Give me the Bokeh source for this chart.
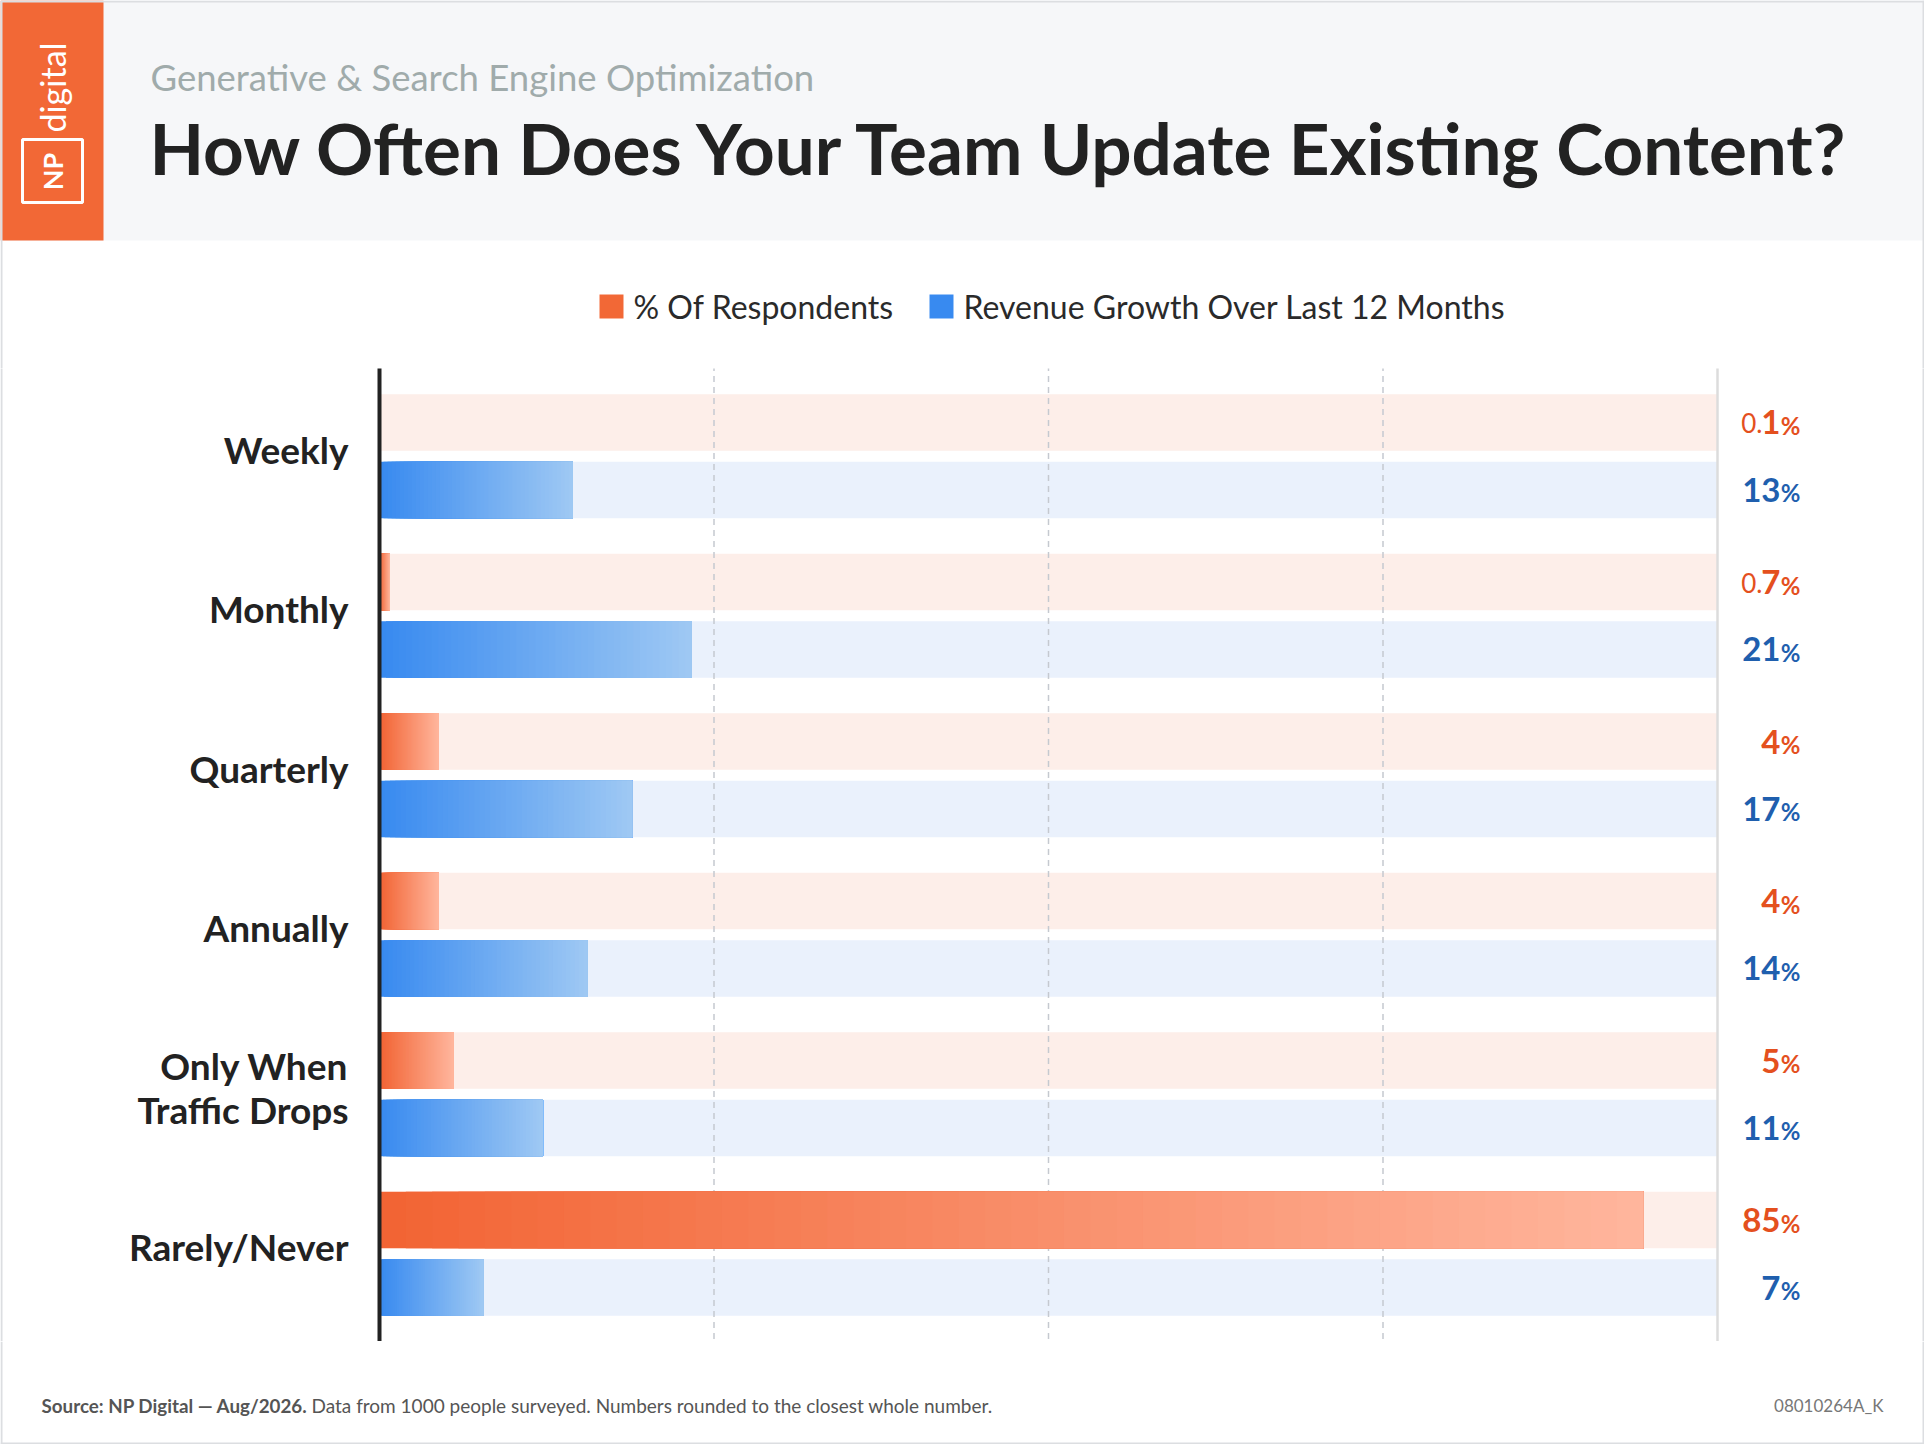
import numpy as np
from bokeh.plotting import figure
from bokeh.models import Range1d, FactorRange, ColumnDataSource
from bokeh.transform import dodge
from bokeh.layouts import column
from bokeh.core.properties import value
from bokeh.embed import file_html
from bokeh.resources import INLINE

# ---------------- data ----------------
categories = ["Weekly", "Monthly", "Quarterly", "Annually",
              "Only When\nTraffic Drops", "Rarely/Never"]
respondents = [0.1, 0.7, 4, 4, 5, 85]          # % of respondents
revenue = [13, 21, 17, 14, 11, 7]              # revenue growth over last 12 months
series_names = ["% Of Respondents", "Revenue Growth Over Last 12 Months"]
scale_max = 90

# ---------------- style ----------------
FONT = "Lato"
W, H = 1924, 1444
DARK = "#222222"
BRAND = "#f26836"
BORDER = "#dcdee1"
O_LEFT, O_RIGHT = (242, 100, 52), (255, 181, 156)
B_LEFT, B_RIGHT = (56, 138, 240), (158, 200, 243)
O_TRACK, B_TRACK = "#fdeee9", "#eaf1fc"
O_TEXT, B_TEXT = "#e4501e", "#1f5fae"

AXIS_PX, END_PX = 379, 1717          # pixel positions of value 0 and of scale_max
px_per = (END_PX - AXIS_PX) / scale_max


def px_to_x(px):
    return (px - AXIS_PX) / px_per


def split_label(v):
    s = f"{v:g}"
    if "." in s:
        a, b = s.split(".")
        return a + ".", b
    return "", s


def mix(c0, c1, t):
    return "#%02x%02x%02x" % tuple(int(round(a + (b - a) * t)) for a, b in zip(c0, c1))


def blank(y0, y1):
    p = figure(width=W, height=y1 - y0, x_range=Range1d(0, W), y_range=Range1d(y1, y0),
               toolbar_location=None, output_backend="svg", min_border=0,
               x_axis_location=None, y_axis_location=None, outline_line_color=None)
    p.grid.visible = False
    return p


# ---------------- header ----------------
h = blank(0, 368)
h.quad(left=0, right=W, top=0, bottom=240, fill_color="#f6f7f9", line_color=None)
h.quad(left=0, right=103, top=0, bottom=240, fill_color=BRAND, line_color=None)
h.quad(left=22, right=82, top=139, bottom=202, fill_color=None, line_color="white", line_width=3)
h.text(x=[52], y=[171], text=["NP"], angle=np.pi / 2, text_align="center", text_baseline="middle",
       text_color="white", text_font=value(FONT), text_font_size="27px", text_font_style="bold")
h.text(x=[52], y=[87], text=["digital"], angle=np.pi / 2, text_align="center", text_baseline="middle",
       text_color="white", text_font=value(FONT), text_font_size="34px")
h.text(x=[150], y=[76], text=["Generative & Search Engine Optimization"], text_baseline="middle",
       text_color="#a0abab", text_font=value(FONT), text_font_size="36.5px")
h.text(x=[149], y=[147], text=["How Often Does Your Team Update Existing Content?"], text_baseline="middle",
       text_color=DARK, text_font=value(FONT), text_font_size="71px", text_font_style="bold")
# legend
h.quad(left=[599, 929], right=[623, 953], top=[294, 294], bottom=[318, 318],
       fill_color=[BRAND, mix(B_LEFT, B_LEFT, 0)], line_color=None)
h.text(x=[633, 963], y=[306, 306], text=series_names, text_baseline="middle",
       text_color="#2a2a2a", text_font=value(FONT), text_font_size="32px")
h.segment(x0=[0, 1, W - 1], x1=[W, 1, W - 1], y0=[1, 0, 0], y1=[1, 368, 368],
          line_color=BORDER, line_width=2)

# ---------------- main chart ----------------
yr = FactorRange(factors=categories[::-1], range_padding=0.05, range_padding_units="absolute")
p = figure(width=W, height=973, x_range=Range1d(px_to_x(0), px_to_x(W)), y_range=yr,
           toolbar_location=None, output_backend="svg", min_border=0,
           x_axis_location=None, y_axis_location=None, outline_line_color=None)
p.grid.visible = False

BAR_H = 0.354
OFF = 0.2115
src = ColumnDataSource(dict(cat=categories, resp=respondents, rev=revenue,
                            full=[scale_max] * len(categories)))
p.hbar(y=dodge("cat", OFF, range=yr), left=0, right="full", height=BAR_H,
       fill_color=O_TRACK, line_color=None, source=src)
p.hbar(y=dodge("cat", -OFF, range=yr), left=0, right="full", height=BAR_H,
       fill_color=B_TRACK, line_color=None, source=src)

grid_x = [scale_max * k / 4 for k in (1, 2, 3)]
p.segment(x0=grid_x, x1=grid_x, y0=-1, y1=len(categories) + 1,
          line_color="#c5c9d0", line_width=1.5, line_dash="6 5")
p.segment(x0=[scale_max], x1=[scale_max], y0=-1, y1=len(categories) + 1,
          line_color="#dcdcdc", line_width=2.5)


def gradient_bars(vals, off, c0, c1, n=48):
    ys, lefts, rights, cols = [], [], [], []
    for i in range(n):
        t = i / (n - 1)
        for c, v in zip(categories, vals):
            ys.append(c)
            lefts.append(v * i / n)
            rights.append(v)
            cols.append(mix(c0, c1, t))
    s = ColumnDataSource(dict(cat=ys, left=lefts, right=rights, color=cols))
    p.hbar(y=dodge("cat", off, range=yr), left="left", right="right", height=BAR_H,
           fill_color="color", line_color=None, source=s)


gradient_bars(respondents, OFF, O_LEFT, O_RIGHT)
gradient_bars(revenue, -OFF, B_LEFT, B_RIGHT)

# category axis: line + labels
p.segment(x0=[0], x1=[0], y0=-1, y1=len(categories) + 1, line_color=DARK, line_width=4)
p.text(x=px_to_x(348), y="cat", text="cat", text_align="right", text_baseline="middle",
       y_offset=-7, text_color=DARK, text_font=value(FONT), text_font_size="37px",
       text_font_style="bold", text_line_height=0.97, source=src)

LABEL_X = px_to_x(1800)


def value_labels(vals, off, color):
    pre, main = zip(*[split_label(v) for v in vals])
    s = ColumnDataSource(dict(cat=categories, pre=list(pre), main=list(main),
                              pct=["%"] * len(vals)))
    y = dodge("cat", off, range=yr)
    p.text(x=LABEL_X, y=y, text="pct", text_align="right", text_baseline="middle",
           y_offset=3, text_color=color, text_font=value(FONT), text_font_size="24px",
           text_font_style="bold", source=s)
    p.text(x=LABEL_X, y=y, text="main", x_offset=-20, text_align="right", text_baseline="middle",
           text_color=color, text_font=value(FONT), text_font_size="33px",
           text_font_style="bold", source=s)
    p.text(x=LABEL_X, y=y, text="pre", x_offset=-38, text_align="right", text_baseline="middle",
           y_offset=1, text_color=color, text_font=value(FONT), text_font_size="26px", source=s)


value_labels(respondents, OFF, O_TEXT)
value_labels(revenue, -OFF, B_TEXT)

p.segment(x0=[px_to_x(1), px_to_x(W - 1)], x1=[px_to_x(1), px_to_x(W - 1)], y0=-1,
          y1=len(categories) + 1, line_color=BORDER, line_width=2)

# ---------------- footer ----------------
f = blank(1341, H)
f.text(x=[41], y=[1405], text=["Source: NP Digital \u2014 Aug/2026."], text_baseline="middle",
       text_color="#555555", text_font=value(FONT), text_font_size="18.8px", text_font_style="bold")
f.text(x=[311], y=[1405],
       text=["Data from 1000 people surveyed. Numbers rounded to the closest whole number."],
       text_baseline="middle", text_color="#555555", text_font=value(FONT), text_font_size="19px")
f.text(x=[1883], y=[1405], text=["08010264A_K"], text_align="right", text_baseline="middle",
       text_color="#777777", text_font=value(FONT), text_font_size="17px")
f.segment(x0=[0, 1, W - 1], x1=[W, 1, W - 1], y0=[H - 1, 1341, 1341], y1=[H - 1, H, H],
          line_color=BORDER, line_width=2)

layout = column(h, p, f, spacing=0)
open("out.html", "w").write(file_html(layout, INLINE))
